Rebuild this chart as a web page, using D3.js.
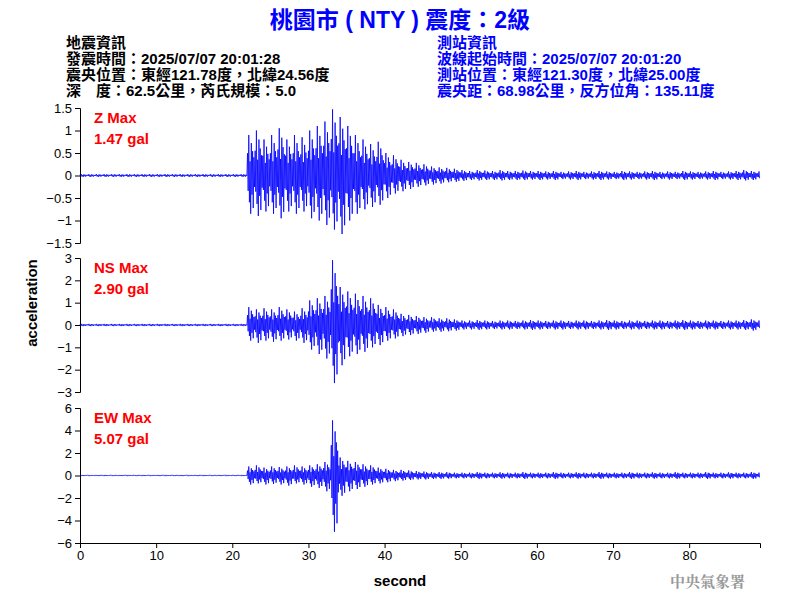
<!DOCTYPE html><html><head><meta charset="utf-8"><script src="https://cdn.jsdelivr.net/npm/d3@7"></script>
<style>body{margin:0;background:#fff}svg{font-family:Arial,"Liberation Sans","Noto Sans CJK TC",sans-serif}</style></head><body><svg id="c" width="800" height="600"></svg><script>
// per-second envelope (max, min), seconds 0..89
const zHi=[.03,.03,.03,.03,.03,.03,.03,.03,.03,.03,.03,.03,.03,.03,.03,.03,.03,.03,.03,.03,.03,.03,.9,1.0,.8,.9,1.05,.8,.9,.85,1.0,1.1,1.2,1.47,1.3,1.1,.9,.8,.7,.75,.5,.45,.35,.3,.28,.25,.2,.18,.17,.15,.12,.1,.12,.11,.1,.12,.1,.1,.11,.1,.1,.09,.1,.08,.09,.1,.08,.09,.1,.09,.08,.1,.09,.08,.09,.1,.08,.09,.08,.1,.09,.08,.09,.1,.08,.09,.1,.12,.1,.09];
const zLo=[-.03,-.03,-.03,-.03,-.03,-.03,-.03,-.03,-.03,-.03,-.03,-.03,-.03,-.03,-.03,-.03,-.03,-.03,-.03,-.03,-.03,-.03,-.85,-.9,-.8,-.85,-.95,-.8,-.85,-.8,-.95,-1.0,-1.1,-1.2,-1.3,-1.0,-.85,-.75,-.7,-.65,-.5,-.4,-.35,-.3,-.25,-.22,-.2,-.18,-.15,-.14,-.12,-.1,-.11,-.1,-.1,-.11,-.1,-.1,-.1,-.09,-.1,-.09,-.1,-.08,-.09,-.1,-.08,-.09,-.1,-.09,-.08,-.1,-.09,-.08,-.09,-.1,-.08,-.09,-.08,-.1,-.09,-.08,-.09,-.1,-.08,-.09,-.1,-.11,-.1,-.09];
const nsHi=[.05,.05,.05,.05,.05,.05,.05,.05,.05,.05,.05,.05,.05,.05,.05,.05,.05,.05,.05,.05,.05,.05,.8,.7,.75,.7,.8,.7,.6,.75,1.1,1.2,1.3,2.9,1.7,1.5,1.4,1.3,1.2,.9,.8,.7,.5,.45,.4,.35,.35,.3,.3,.25,.2,.2,.22,.2,.18,.2,.2,.18,.2,.22,.2,.18,.2,.2,.18,.2,.2,.18,.2,.22,.2,.18,.2,.2,.18,.2,.2,.18,.2,.22,.2,.18,.2,.2,.18,.2,.2,.22,.25,.2];
const nsLo=[-.05,-.05,-.05,-.05,-.05,-.05,-.05,-.05,-.05,-.05,-.05,-.05,-.05,-.05,-.05,-.05,-.05,-.05,-.05,-.05,-.05,-.05,-.7,-.8,-.7,-.75,-.7,-.65,-.7,-.8,-1.1,-1.3,-1.5,-2.6,-1.8,-1.4,-1.3,-1.2,-1.0,-.9,-.7,-.6,-.5,-.45,-.4,-.35,-.3,-.3,-.28,-.25,-.2,-.2,-.22,-.2,-.18,-.2,-.2,-.18,-.2,-.22,-.2,-.18,-.2,-.2,-.18,-.2,-.2,-.18,-.2,-.22,-.2,-.18,-.2,-.2,-.18,-.2,-.2,-.18,-.2,-.22,-.2,-.18,-.2,-.2,-.18,-.2,-.2,-.22,-.25,-.2];
const ewHi=[.05,.05,.05,.05,.05,.05,.05,.05,.05,.05,.05,.05,.05,.05,.05,.05,.05,.05,.05,.05,.05,.05,.8,.9,.7,.8,.75,.8,.9,.8,.9,1.0,1.2,4.9,1.6,1.3,1.2,1.0,.9,.7,.6,.5,.5,.45,.4,.35,.3,.3,.3,.25,.25,.25,.3,.25,.25,.28,.25,.25,.3,.25,.25,.25,.3,.25,.25,.28,.25,.25,.3,.25,.25,.25,.3,.25,.25,.28,.25,.25,.3,.25,.25,.25,.3,.25,.25,.28,.25,.25,.3,.25];
const ewLo=[-.05,-.05,-.05,-.05,-.05,-.05,-.05,-.05,-.05,-.05,-.05,-.05,-.05,-.05,-.05,-.05,-.05,-.05,-.05,-.05,-.05,-.05,-.8,-.7,-.8,-.75,-.8,-.9,-.7,-.8,-1.0,-1.1,-1.4,-5.0,-1.8,-1.4,-1.2,-1.0,-.8,-.7,-.6,-.5,-.45,-.4,-.35,-.35,-.3,-.3,-.28,-.25,-.25,-.25,-.3,-.25,-.25,-.28,-.25,-.25,-.3,-.25,-.25,-.25,-.3,-.25,-.25,-.28,-.25,-.25,-.3,-.25,-.25,-.25,-.3,-.25,-.25,-.28,-.25,-.25,-.3,-.25,-.25,-.25,-.3,-.25,-.25,-.28,-.25,-.25,-.3,-.25];
// fixed wiggle shape used within each second between the read envelope bounds
const sub=[0.55,-0.4,1,-0.7,0.35,-1,0.8,-0.5,0.6,-0.85,0.45,-0.3];
const panels=[
 {name:"Z Max",val:"1.47 gal",hi:zHi,lo:zLo,lim:1.5,ticks:[-1.5,-1,-0.5,0,0.5,1,1.5],top:108,bot:243},
 {name:"NS Max",val:"2.90 gal",hi:nsHi,lo:nsLo,lim:3,ticks:[-3,-2,-1,0,1,2,3],top:258,bot:392},
 {name:"EW Max",val:"5.07 gal",hi:ewHi,lo:ewLo,lim:6,ticks:[-6,-4,-2,0,2,4,6],top:408,bot:543}];
const xTicks=[0,10,20,30,40,50,60,70,80];
const svg=d3.select("#c");
const x=d3.scaleLinear().domain([0,89.3]).range([80,760]);
panels.forEach(p=>{
 const y=d3.scaleLinear().domain([-p.lim,p.lim]).range([p.bot,p.top]);
 const pts=[];
 p.hi.forEach((h,i)=>{const l=p.lo[i];sub.forEach((s,k)=>{const t=i+k/sub.length;if(t<=89.3)pts.push([t,s>0?s*h:-s*l]);});});
 svg.append("path").attr("d",d3.line().x(d=>x(d[0])).y(d=>y(d[1]))(pts)).attr("fill","none").attr("stroke","#0000ff").attr("stroke-width",0.8);
 const ax=svg.append("g").attr("transform","translate(80,0)").call(d3.axisLeft(y).tickValues(p.ticks).tickSize(5).tickFormat(d3.format("")));
 ax.selectAll("text").attr("font-size",13).attr("fill","#000");
 svg.append("text").attr("x",94).attr("y",p.top+15).attr("fill","#ff0000").attr("font-size",15).attr("font-weight","bold").text(p.name);
 svg.append("text").attr("x",94).attr("y",p.top+36).attr("fill","#ff0000").attr("font-size",15).attr("font-weight","bold").text(p.val);
});
const xa=svg.append("g").attr("transform","translate(0,543)").call(d3.axisBottom(x).tickValues(xTicks).tickSize(5));
xa.selectAll("text").attr("font-size",13).attr("fill","#000");
svg.append("text").attr("x",400).attr("y",586).attr("text-anchor","middle").attr("font-size",15).attr("font-weight","bold").text("second");
svg.append("text").attr("transform","translate(37,303) rotate(-90)").attr("text-anchor","middle").attr("font-size",15).attr("font-weight","bold").text("acceleration");
svg.append("text").attr("x",400).attr("y",28).attr("text-anchor","middle").attr("font-size",23).attr("font-weight","bold").attr("fill","#0000ff").attr("xml:space","preserve").text("桃園市 ( NTY ) 震度：2級");
const L=["地震資訊","發震時間：2025/07/07 20:01:28","震央位置：東經121.78度，北緯24.56度","深　度：62.5公里，芮氏規模：5.0"];
const R=["測站資訊","波線起始時間：2025/07/07 20:01:20","測站位置：東經121.30度，北緯25.00度","震央距：68.98公里，反方位角：135.11度"];
L.forEach((t,i)=>svg.append("text").attr("x",66).attr("y",48+i*16).attr("font-size",15).attr("font-weight","bold").attr("fill","#000").text(t));
R.forEach((t,i)=>svg.append("text").attr("x",437).attr("y",48+i*16).attr("font-size",15).attr("font-weight","bold").attr("fill","#0000ff").text(t));
svg.append("text").attr("x",745).attr("y",587).attr("text-anchor","end").attr("font-size",15).attr("font-weight","bold").attr("fill","#999").attr("font-family","Noto Serif CJK TC,Noto Sans CJK TC").text("中央氣象署");
</script></body></html>
